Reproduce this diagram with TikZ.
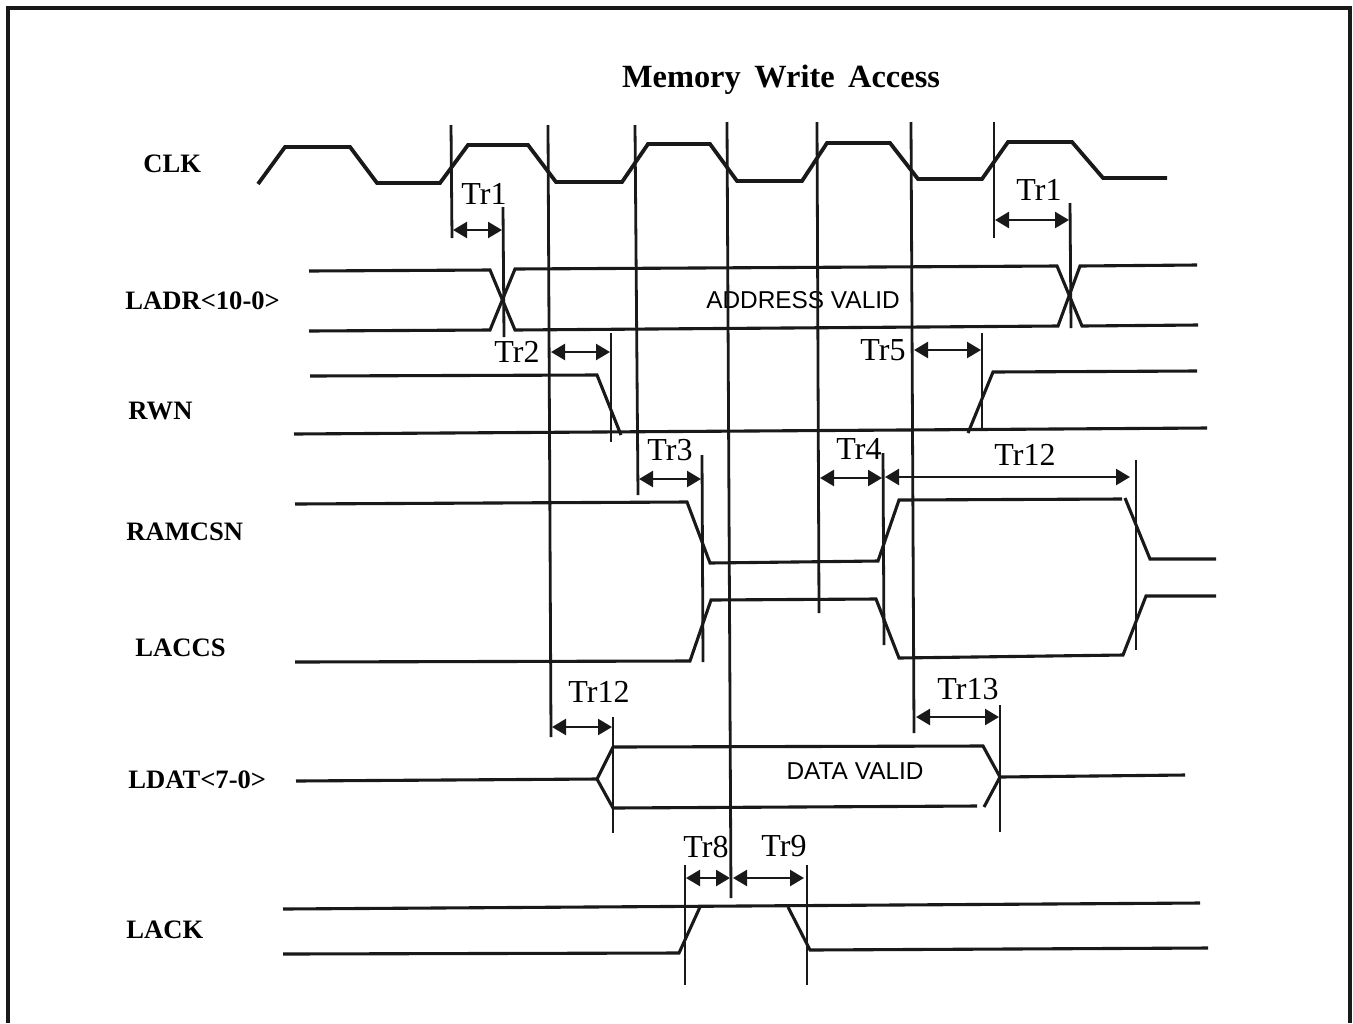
\documentclass[tikz,border=0pt]{standalone}
\usepackage{fontspec}
\setmainfont{Liberation Serif}
\setsansfont{Liberation Sans}
\usetikzlibrary{arrows.meta}

\begin{document}
\begin{tikzpicture}[
    x=0.5pt, y=-0.5pt,
    sigline/.style={draw=black!90, line width=1.55pt, line join=miter},
    clkline/.style={sigline, line width=1.9pt},
    guide/.style={draw=black!90, line width=1.4pt},
    dim/.style={draw=black!90, line width=1.2pt, {Triangle[length=7pt,width=8pt]}-{Triangle[length=7pt,width=8pt]}},
    sig/.style={font=\bfseries\fontsize{13.3}{15}\selectfont, anchor=west, inner sep=0pt},
    trlbl/.style={font=\fontsize{16}{18}\selectfont, inner sep=0pt},
    valid/.style={font=\sffamily\fontsize{12.2}{14}\selectfont, inner sep=0pt}
]
    \useasboundingbox (0,0) rectangle (1353,1023);

    % ---- frame, open at the bottom ----
    \draw[line width=1.9pt, black!90] (8,1023) -- (8,8) -- (1350,8) -- (1350,1023);

    \node[font=\bfseries\fontsize{16.2}{18}\selectfont, inner sep=0pt] (title) at (781,80) {Memory\, Write\, Access};

    % ---- signal names ----
    \foreach \x/\y/\nm/\name in {143/164/clk/CLK, 125/301/ladr/{LADR<10-0>}, 128/411/rwn/RWN,
        126/532/ramcsn/RAMCSN, 135/648/laccs/LACCS, 128/780/ldat/{LDAT<7-0>}, 126/930/lack/LACK} {
        \node[sig] (\nm) at (\x,\y) {\name};
    }

    % ================= CLK =================
    \draw[clkline] (258,184) -- (285,147) -- (350,147) -- (377,183) -- (440,183) -- (468,145)
        -- (528,145) -- (556,182) -- (622,182) -- (648,144) -- (710,144) -- (737,181)
        -- (802,181) -- (827,143) -- (890,143) -- (918,179) -- (982,179) -- (1008,142)
        -- (1072,142) -- (1103,178) -- (1167,178);

    % ================= LADR =================
    \draw[sigline] (309,271) -- (490,270) -- (515,330) -- (1058,326) -- (1080,266) -- (1197,265);
    \draw[sigline] (309,331) -- (490,330) -- (515,269) -- (1057,266) -- (1082,326) -- (1198,325);
    \node[valid] (addr) at (803,300) {ADDRESS VALID};

    % ================= RWN =================
    \draw[sigline] (310,376) -- (597,375) -- (621,435);
    \draw[sigline] (294,434) -- (1207,428);
    \draw[sigline] (968,433) -- (993,372) -- (1197,371);

    % ================= RAMCSN / LACCS =================
    \draw[sigline] (295,504) -- (687,502) -- (710,563) -- (878,561) -- (899,500) -- (1122,499);
    \draw[sigline] (1125,498) -- (1150,559) -- (1216,559);
    \draw[sigline] (295,662) -- (690,661) -- (711,600) -- (876,599) -- (899,658) -- (1123,655)
        -- (1146,596) -- (1216,596);

    % ================= LDAT =================
    \draw[sigline] (296,781) -- (597,779) -- (613,747) -- (983,746) -- (1000,777) -- (1185,775);
    \draw[sigline] (597,779) -- (613,808) -- (977,806);
    \draw[sigline] (984,807) -- (1000,777);
    \node[valid] (data) at (855,771) {DATA VALID};

    % ================= LACK =================
    \draw[sigline] (283,909) -- (1200,903);
    \draw[sigline] (283,954) -- (679,953) -- (700,907);
    \draw[sigline] (788,907) -- (810,950) -- (1208,948);

    % ---- guide lines ----
    \foreach \xa/\ya/\xb/\yb in {451/125/452/238, 548/125/551/737, 635/125/638/495, 727/122/731/898,
        817/122/819/613, 911/122/914/733, 994/122/994/238, 503/207/504/337, 1070/203/1071/328,
        611/333/611/442, 982/333/982/430, 702/455/703/662, 883/453/884/645, 1136/460/1136/650,
        613/717/613/833, 1000/705/1000/832, 685/865/685/985, 807/865/807/985} {
        \draw[guide] (\xa,\ya) -- (\xb,\yb);
    }

    % ---- timing arrows ----
    \foreach \xa/\xb/\y in {453/502/230, 995/1069/220, 551/610/352, 914/981/350, 639/701/479,
        820/882/478, 885/1130/477, 552/612/727, 916/999/717, 686/730/878, 733/804/878} {
        \draw[dim] (\xa,\y) -- (\xb,\y);
    }

    % ---- timing names ----
    \foreach \x/\y/\nm/\name in {484/194/tra/Tr1, 1039/190/trb/Tr1, 517/352/trc/Tr2, 883/350/trd/Tr5,
        670/450/tre/Tr3, 859/449/trf/Tr4, 1025/455/trg/Tr12, 599/692/trh/Tr12, 968/689/tri/Tr13,
        706/847/trj/Tr8, 784/846/trk/Tr9} {
        \node[trlbl] (\nm) at (\x,\y) {\name};
    }
\end{tikzpicture}
\end{document}
